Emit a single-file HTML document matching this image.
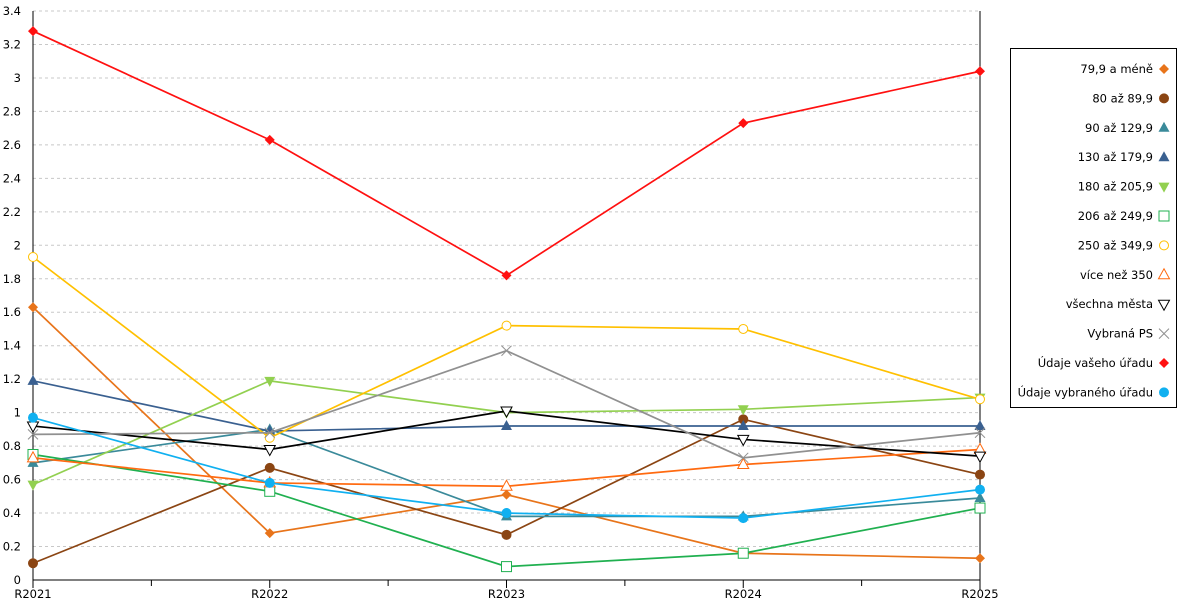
<!DOCTYPE html>
<html><head><meta charset="utf-8"><style>
body{margin:0;background:#fff;font-family:"Liberation Sans",sans-serif;}
svg text{font-family:"DejaVu Sans","Liberation Sans",sans-serif;font-size:11.5px;fill:#000;}
</style></head><body>
<svg id="c" width="1200" height="600"></svg>
<script>
const categories=["R2021","R2022","R2023","R2024","R2025"];
const seriesNames=["79,9 a méně","80 až 89,9","90 až 129,9","130 až 179,9","180 až 205,9","206 až 249,9","250 až 349,9","více než 350","všechna města","Vybraná PS","Údaje vašeho úřadu","Údaje vybraného úřadu"];
const s0=[1.63,0.28,0.51,0.16,0.13];
const s1=[0.10,0.67,0.27,0.96,0.63];
const s2=[0.70,0.90,0.38,0.38,0.49];
const s3=[1.19,0.89,0.92,0.92,0.92];
const s4=[0.57,1.19,1.00,1.02,1.09];
const s5=[0.75,0.53,0.08,0.16,0.43];
const s6=[1.93,0.85,1.52,1.50,1.08];
const s7=[0.73,0.58,0.56,0.69,0.78];
const s8=[0.92,0.78,1.01,0.84,0.74];
const s9=[0.87,0.88,1.37,0.73,0.88];
const s10=[3.28,2.63,1.82,2.73,3.04];
const s11=[0.97,0.58,0.40,0.37,0.54];
const yTicks=[0,0.2,0.4,0.6,0.8,1,1.2,1.4,1.6,1.8,2,2.2,2.4,2.6,2.8,3,3.2,3.4];
const seriesData=[s0,s1,s2,s3,s4,s5,s6,s7,s8,s9,s10,s11];
const colors=["#e8741a","#8b4513","#3a8a9a","#3a6090","#92d050","#20b050","#ffc000","#ff6a10","#000000","#909090","#ff1010","#10b0f0"];
const markers=["diamond","circle","triUp","triUp","triDown","square","circleO","triUpO","triDownO","x","diamond","circle"];
const svg=document.getElementById('c');const NS="http://www.w3.org/2000/svg";
const X0=33,X1=980,Y0=580,YMAX=3.4,YTOP=11;
const x=i=>X0+i*(X1-X0)/(categories.length-1);
const y=v=>Y0-v/YMAX*(Y0-YTOP);
function el(t,a,p){const e=document.createElementNS(NS,t);for(const k in a)e.setAttribute(k,a[k]);(p||svg).appendChild(e);return e;}
yTicks.forEach(t=>{
 if(t>0){const g=el('line',{x1:X0,x2:X1,y1:y(t),y2:y(t),stroke:'#c8c8c8','stroke-dasharray':'3,3'});
 
 }
 const tx=el('text',{x:21,y:y(t)+4,'text-anchor':'end'});tx.textContent=String(t);
 
 
});
const ax=el('line',{x1:X0,x2:X0,y1:YTOP,y2:Y0,stroke:'#000'});


const ax2=el('line',{x1:X1,x2:X1,y1:YTOP,y2:Y0+10,stroke:'#000'});


const xa=el('line',{x1:X0,x2:X1,y1:Y0,y2:Y0,stroke:'#000'});


for(let i=0;i<categories.length;i++){
 el('line',{x1:x(i),x2:x(i),y1:Y0,y2:Y0+8,stroke:'#000'});
 if(i<categories.length-1)el('line',{x1:x(i+0.5),x2:x(i+0.5),y1:Y0,y2:Y0+6,stroke:'#000'});
 const t=el('text',{x:x(i),y:Y0+18,'text-anchor':'middle'});t.textContent=categories[i];
 
 
}
function marker(type,cx,cy,c,p){
 const s=5;let m;
 if(type=='diamond')m=el('polygon',{points:`${cx},${cy-s} ${cx+s},${cy} ${cx},${cy+s} ${cx-s},${cy}`,fill:c},p);
 else if(type=='circle')m=el('circle',{cx,cy,r:5,fill:c},p);
 else if(type=='circleO')m=el('circle',{cx,cy,r:4.5,fill:'#fff',stroke:c},p);
 else if(type=='triUp')m=el('polygon',{points:`${cx},${cy-6} ${cx+5.5},${cy+4} ${cx-5.5},${cy+4}`,fill:c},p);
 else if(type=='triUpO')m=el('polygon',{points:`${cx},${cy-6} ${cx+5.5},${cy+4} ${cx-5.5},${cy+4}`,fill:'#fff',stroke:c},p);
 else if(type=='triDown')m=el('polygon',{points:`${cx},${cy+6} ${cx+5.5},${cy-4} ${cx-5.5},${cy-4}`,fill:c},p);
 else if(type=='triDownO')m=el('polygon',{points:`${cx},${cy+6} ${cx+5.5},${cy-4} ${cx-5.5},${cy-4}`,fill:'#fff',stroke:c},p);
 else if(type=='square')m=el('rect',{x:cx-5,y:cy-5,width:10,height:10,fill:'#fff',stroke:c},p);
 else if(type=='x')m=el('path',{d:`M${cx-5},${cy-5}L${cx+5},${cy+5}M${cx-5},${cy+5}L${cx+5},${cy-5}`,stroke:c,fill:'none'},p);
 return m;
}
seriesData.forEach((d,si)=>{
 const g=el('g',{});
 
 
 el('polyline',{points:d.map((v,i)=>x(i)+','+y(v)).join(' '),fill:'none',stroke:colors[si],'stroke-width':1.7},g);
 d.forEach((v,i)=>{const m=marker(markers[si],x(i),y(v),colors[si],g);
  
  });
});
const lg=el('g',{});


el('rect',{x:1010.5,y:48.5,width:166,height:359,fill:'#fff',stroke:'#000'},lg);
seriesNames.forEach((n,i)=>{
 const yy=69+i*29.4;
 const t=el('text',{x:1153,y:yy+4,'text-anchor':'end'},lg);t.textContent=n;
 
 
 marker(markers[i],1164,yy,colors[i],lg);
});
</script>
</body></html>
